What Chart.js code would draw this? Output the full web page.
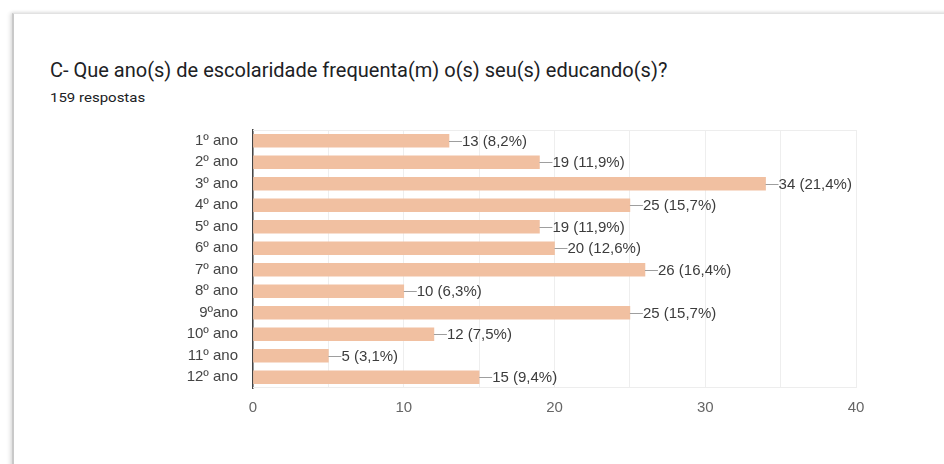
<!DOCTYPE html>
<html>
<head>
<meta charset="utf-8">
<script src="https://cdn.jsdelivr.net/npm/chart.js@4"></script>
<style>
  html, body { margin: 0; padding: 0; background: #fff; width: 944px; height: 464px; overflow: hidden; }
  .card {
    position: absolute; left: 12px; top: 13px; width: 1000px; height: 500px;
    border-top: 1px solid #e2e2e2; border-left: 2px solid #c9c9c9;
    box-shadow: -2px 0 4px rgba(0,0,0,0.12), 0 -1px 3px rgba(0,0,0,0.06);
  }
  .title {
    position: absolute; left: 50px; top: 58px; margin: 0;
    font-family: Roboto, "Noto Sans", sans-serif; font-size: 20px; font-weight: 400; color: #202124;
    white-space: nowrap;
  }
  .sub {
    position: absolute; left: 50px; top: 88px;
    font-family: Roboto, sans-serif; font-size: 15px; color: #202124;
    transform: scaleY(0.9); transform-origin: left center;
  }
  canvas { position: absolute; left: 0; top: 0; }
</style>
</head>
<body>
<div class="card"></div>
<div class="title">C- Que ano(s) de escolaridade frequenta(m) o(s) seu(s) educando(s)?</div>
<div class="sub">159 respostas</div>
<canvas id="chart" width="944" height="464"></canvas>
<script>
// Respostas por ano de escolaridade
const categories = ['1º ano', '2º ano', '3º ano', '4º ano', '5º ano', '6º ano',
                    '7º ano', '8º ano', '9ºano', '10º ano', '11º ano', '12º ano'];
const counts = [13, 19, 34, 25, 19, 20, 26, 10, 25, 12, 5, 15];
const totalResponses = 159;
const xTicks = [0, 10, 20, 30, 40];

const fontFamily = '"Liberation Sans", Arial, sans-serif';

// value labels with a short leader line, like Google Forms
const valueLabels = {
    id: 'valueLabels',
    afterDatasetsDraw(chart) {
        const ctx = chart.ctx;
        const meta = chart.getDatasetMeta(0);
        ctx.save();
        ctx.font = '15px ' + fontFamily;
        ctx.textBaseline = 'middle';
        ctx.textAlign = 'left';
        meta.data.forEach((bar, i) => {
            const v = counts[i];
            const pct = (v / totalResponses * 100).toFixed(1).replace('.', ',');
            ctx.strokeStyle = '#9e9e9e';
            ctx.lineWidth = 1;
            ctx.beginPath();
            ctx.moveTo(bar.x, Math.round(bar.y) + 0.5);
            ctx.lineTo(bar.x + 13, Math.round(bar.y) + 0.5);
            ctx.stroke();
            ctx.fillStyle = '#3c3c3c';
            ctx.fillText(`${v} (${pct}%)`, bar.x + 13, bar.y + 1);
        });
        ctx.restore();
    }
};

// faint frame lines at top and bottom of the plot
const frame = {
    id: 'frame',
    beforeDatasetsDraw(chart) {
        const { ctx, chartArea: a } = chart;
        ctx.save();
        ctx.strokeStyle = '#ededed';
        ctx.lineWidth = 1;
        ctx.beginPath();
        ctx.moveTo(a.left, a.top + 0.5);
        ctx.lineTo(a.right, a.top + 0.5);
        ctx.moveTo(a.left, a.bottom - 0.5);
        ctx.lineTo(a.right, a.bottom - 0.5);
        ctx.stroke();
        ctx.restore();
    }
};

new Chart(document.getElementById('chart').getContext('2d'), {
    type: 'bar',
    data: {
        labels: categories,
        datasets: [{
            data: counts,
            backgroundColor: '#f1c0a1',
            borderWidth: 0,
            barThickness: 13
        }]
    },
    options: {
        indexAxis: 'y',
        responsive: false,
        animation: false,
        layout: { padding: { top: 130, right: 88, left: 0, bottom: 0 } },
        plugins: {
            legend: { display: false },
            tooltip: { enabled: false }
        },
        scales: {
            x: {
                min: xTicks[0],
                max: xTicks[xTicks.length - 1],
                ticks: {
                    stepSize: 5,
                    padding: 11,
                    color: '#666',
                    font: { family: fontFamily, size: 15 },
                    callback: v => xTicks.includes(v) ? v : ''
                },
                grid: { color: '#eeeeee', drawTicks: false },
                border: { display: false },
                afterFit: s => { s.height = 76; }
            },
            y: {
                ticks: {
                    padding: 15,
                    color: '#444',
                    font: { family: fontFamily, size: 15 }
                },
                grid: { display: false, drawTicks: false },
                border: { display: true, color: '#444', width: 1.5 },
                afterFit: s => { s.width = 253; }
            }
        }
    },
    plugins: [frame, valueLabels]
});
</script>
</body>
</html>
